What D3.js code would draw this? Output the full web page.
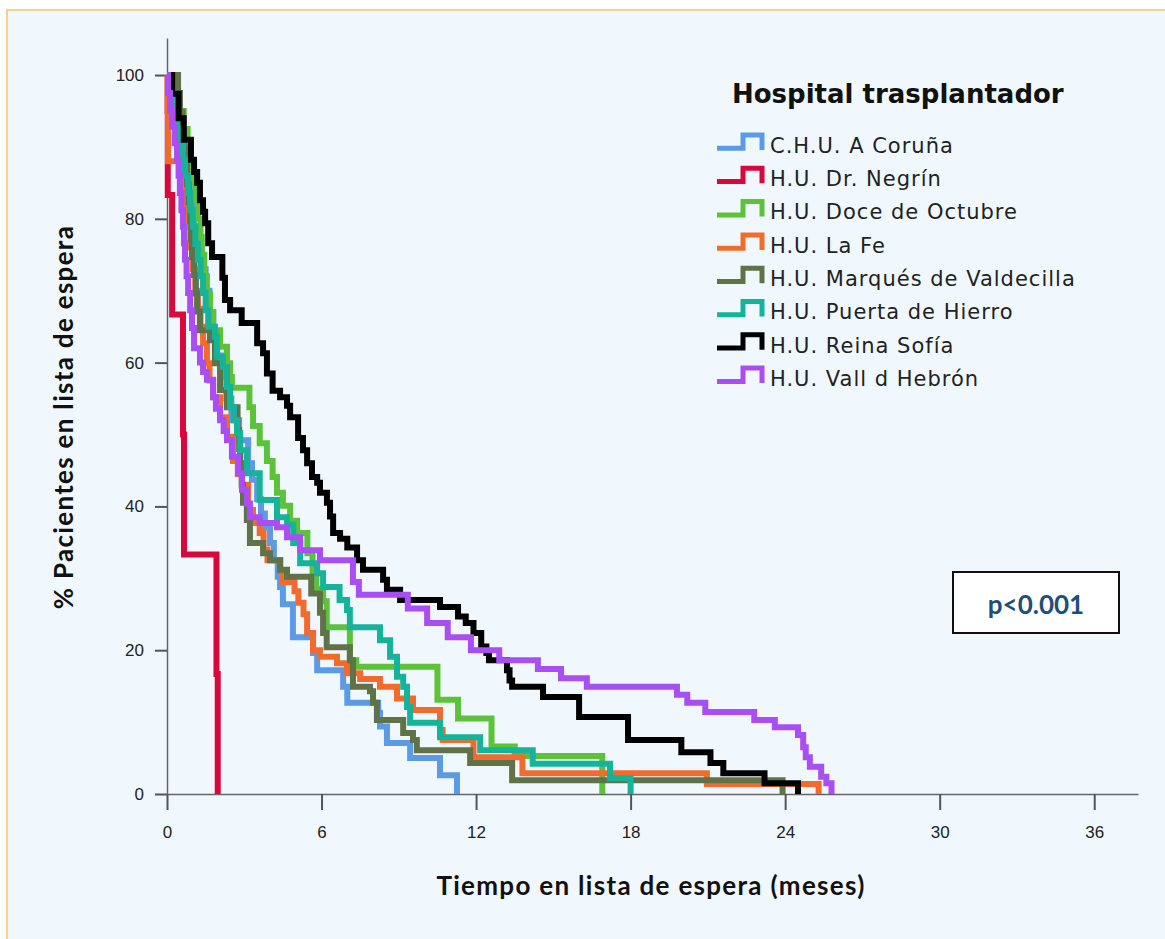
<!DOCTYPE html>
<html>
<head>
<meta charset="utf-8">
<script src="https://cdn.jsdelivr.net/npm/d3@7"></script>
<style>
  html, body { margin: 0; padding: 0; background: #ffffff; }
  svg { display: block; }
</style>
</head>
<body>
<div id="chart"></div>
<script>
// Kaplan-Meier step data: [time in months, % still on waiting list after that drop]
var hospitals = ["C.H.U. A Coruña", "H.U. Dr. Negrín", "H.U. Doce de Octubre", "H.U. La Fe",
  "H.U. Marqués de Valdecilla", "H.U. Puerta de Hierro", "H.U. Reina Sofía", "H.U. Vall d Hebrón"];
var colors = ["#5b9be5", "#d9083c", "#5cc23a", "#f26b2d", "#5f7248", "#16b39b", "#000000", "#a84ef2"];

var coruna = [[0.15,97],[0.3,94],[0.45,91],[0.6,88],[0.75,85],[0.9,82],[1.05,79],[1.2,76],[1.35,73],
  [1.5,70],[1.65,67],[1.8,64],[1.95,61],[2.1,58],[2.3,55],[2.5,52],[2.8,49.2],[3.15,46],[3.3,43.7],
  [3.5,41],[3.65,39],[3.8,37.1],[4.0,34.9],[4.15,32.5],[4.3,30.2],[4.39,28.8],[4.5,26.4],[4.89,21.8],
  [5.67,19.6],[5.83,17.2],[6.84,14.9],[7.0,12.7],[8.2,11.3],[8.27,9.4],[8.54,7.1],[9.44,5.0],
  [10.6,2.6],[11.26,0]];
var negrin = [[0.03,83.3],[0.2,66.7],[0.62,50],[0.66,33.3],[1.92,16.7],[1.97,0]];
var doce = [[0.3,97.5],[0.5,95],[0.65,92.5],[0.8,90],[0.9,87.5],[1.0,85],[1.1,82.5],[1.2,80],
  [1.3,77.5],[1.35,75],[1.45,72],[1.55,69.5],[1.67,67],[1.79,64.5],[2.06,62.2],[2.33,59.9],[2.45,58],
  [2.52,56.5],[3.2,53.8],[3.34,51.2],[3.6,48.8],[3.88,46.3],[4.1,44.1],[4.27,41.9],[4.5,40.1],
  [4.78,38],[5.05,36.3],[5.45,33.5],[5.65,31],[5.8,28.5],[6.06,26.8],[6.2,23.2],[7.1,18.6],
  [7.35,17.7],[10.5,13.1],[11.3,10.5],[12.6,6.6],[13.5,5.3],[16.9,0]];
var laFe = [[0.02,95],[0.04,88],[0.5,86.8],[0.58,85],[0.7,81.2],[0.78,78.9],[0.9,76],[1.0,73],
  [1.1,70],[1.2,67.5],[1.3,65],[1.4,62.7],[1.55,59.9],[1.65,57.5],[1.79,55.2],[2.06,52.4],[2.33,49.7],
  [2.56,46.3],[2.75,44.5],[2.91,43],[3.15,39.5],[3.34,37.7],[3.6,36.3],[3.75,34],[3.9,32.5],[4.4,31],
  [4.5,29.5],[4.95,28.2],[5.1,26.6],[5.3,25],[5.44,22.4],[5.67,20],[5.94,19.1],[6.6,18.2],[6.99,16.8],
  [7.5,16],[8.27,14.9],[8.93,13.3],[9.55,11.7],[10.6,8.9],[10.7,7.5],[11.9,5.1],[13.8,2.9],
  [20.96,1.4],[25.3,0]];
var marques = [[0.43,97.5],[0.5,94.9],[0.6,92.4],[0.66,89.9],[0.72,87.3],[0.78,84.8],[0.84,82.3],
  [0.9,79.7],[0.94,77.2],[0.97,74.7],[1.05,72.2],[1.12,69.6],[1.17,67.1],[1.28,64.5],[1.67,63.1],
  [1.86,59.9],[2.06,56.2],[2.33,53.8],[2.74,50.6],[2.8,48],[2.84,46],[2.9,43],[2.95,40.5],[3.1,38.1],
  [3.22,34.9],[3.73,33.5],[4.0,32.5],[4.39,31.2],[4.66,30.2],[5.6,27.9],[5.94,25.2],[6.06,22.4],
  [6.2,20.4],[7.1,18.6],[7.22,14.9],[7.88,14.3],[8.0,12.7],[8.15,10.3],[9.17,8.5],[9.55,7.5],
  [9.7,6.1],[11.77,4.3],[13.4,1.9],[23.9,0]];
var puerta = [[0.15,97.5],[0.25,95],[0.35,92.5],[0.43,90.5],[0.62,88.2],[0.7,86],[0.82,83.6],
  [0.9,81.2],[1.0,78.9],[1.1,76.5],[1.2,74.3],[1.3,72],[1.4,69.7],[1.5,67.3],[1.6,65],[1.86,63.6],
  [1.94,60.8],[2.17,59.4],[2.33,56.6],[2.45,53.8],[2.6,52],[2.72,50.2],[2.84,47.8],[3.1,44.6],
  [3.6,40.9],[4.27,38.5],[4.66,37.5],[4.9,34.9],[5.17,32.1],[5.83,30.7],[6.06,28.8],[6.7,27],
  [6.99,25.6],[7.1,23.2],[8.27,21.4],[8.66,19.1],[8.93,16.3],[9.17,14.9],[9.32,12.1],[9.44,9.9],
  [10.6,7.9],[12.16,6.1],[14.2,4.2],[17.2,2.2],[18.0,0]];
var reina = [[0.2,97.4],[0.45,94],[0.65,91],[0.93,88.2],[1.05,86.5],[1.17,85],[1.28,82.6],[1.4,81],
  [1.48,79.4],[1.6,76.6],[1.75,74.7],[2.15,71.8],[2.25,68.7],[2.45,67.3],[2.9,65.5],[3.5,62.7],
  [3.73,61.3],[3.88,58.5],[4.1,56.1],[4.39,55.2],[4.66,54],[4.78,52.4],[5.09,49.5],[5.28,47.8],
  [5.44,46],[5.63,44.1],[5.83,43.3],[5.94,41.9],[6.21,40.5],[6.33,38.6],[6.45,36.3],[6.72,35.5],
  [7.0,34.3],[7.38,32.5],[7.61,31.2],[8.39,29.8],[8.54,28.4],[9.05,27],[10.6,26],[11.3,24.7],
  [11.6,23.8],[11.9,22.4],[12.2,20.5],[12.4,19.6],[12.5,18.6],[13.2,17.2],[13.3,15.8],[13.4,14.9],
  [14.6,13.5],[16.0,10.7],[17.9,7.5],[19.97,5.8],[21.1,4.3],[21.6,2.9],[23.2,1.5],[24.5,0]];
var vall = [[0.04,97.5],[0.12,95],[0.2,92.8],[0.3,90.5],[0.39,88.2],[0.45,86],[0.5,83.6],[0.56,81.2],
  [0.62,78.9],[0.66,76.6],[0.7,74.3],[0.76,72],[0.82,69.7],[0.9,67.3],[0.97,64.8],[1.05,62],[1.28,60],
  [1.4,58.7],[1.55,57.6],[1.79,55.2],[1.9,53.6],[2.06,52],[2.2,50.5],[2.33,49.2],[2.52,46.9],
  [2.76,44.6],[2.91,42.3],[3.1,40.4],[3.22,38.5],[3.6,37.7],[4.27,37.1],[4.66,35.7],[5.17,33.9],
  [5.94,32.5],[7.22,29.5],[7.45,27.7],[9.35,25.8],[10.1,23.8],[10.9,21.8],[11.8,20],[12.9,18.6],
  [14.4,17.4],[15.3,16.1],[16.3,14.9],[19.8,13.8],[20.2,12.7],[20.9,11.4],[22.8,10.3],[23.6,9.3],
  [24.5,8.2],[24.7,6.5],[24.8,5.1],[24.96,3.8],[25.4,2.4],[25.6,1.5],[25.8,0]];
var seriesData = [coruna, negrin, doce, laFe, marques, puerta, reina, vall];

var xTicks = [0, 6, 12, 18, 24, 30, 36];
var yTicks = [0, 20, 40, 60, 80, 100];
var xTitle = "Tiempo en lista de espera (meses)";
var yTitle = "% Pacientes en lista de espera";
var legendTitle = "Hospital trasplantador";
var pText = "p<0.001";

var width = 1165, height = 939;
var svg = d3.select("#chart").append("svg")
  .attr("width", width)
  .attr("height", height);

// panel background with the thin orange frame on top/left
svg.append("rect")
  .attr("x", 7).attr("y", 10)
  .attr("width", width).attr("height", height)
  .attr("fill", "#f0f8fe")
  .attr("stroke", "#f9cf96")
  .attr("stroke-width", 2);

var x = d3.scaleLinear().domain([0, 37.7]).range([167, 1138]);
var y = d3.scaleLinear().domain([0, 105.15]).range([794, 38]);

var xAxis = svg.append("g")
  .attr("transform", "translate(0,794)")
  .call(d3.axisBottom(x).tickValues(xTicks).tickSize(16).tickSizeOuter(0).tickPadding(16));
var yAxis = svg.append("g")
  .attr("transform", "translate(167,0)")
  .call(d3.axisLeft(y).tickValues(yTicks).tickSize(12).tickSizeOuter(0).tickPadding(11));

[xAxis, yAxis].forEach(function (g) {
  g.select(".domain").attr("stroke", "#666").attr("stroke-width", 1.5);
  g.selectAll(".tick line").attr("stroke", "#555").attr("stroke-width", 2);
  g.selectAll(".tick text")
    .attr("fill", "#222")
    .attr("font-family", "Liberation Sans, Arial, sans-serif")
    .attr("font-size", "17px");
});

// curves, drawn in legend order so the later hospitals sit on top
var line = d3.line()
  .x(function (d) { return x(d[0]); })
  .y(function (d) { return y(d[1]); })
  .curve(d3.curveStepAfter);

var curves = svg.append("g");
seriesData.forEach(function (s, i) {
  curves.append("path")
    .datum([[0, 100]].concat(s))
    .attr("d", line)
    .attr("fill", "none")
    .attr("stroke", colors[i])
    .attr("stroke-width", 6)
    .attr("stroke-linejoin", "miter")
    .attr("stroke-linecap", "butt");
});

// axis titles
svg.append("text")
  .attr("x", 651).attr("y", 895)
  .attr("text-anchor", "middle")
  .attr("font-family", "Lato, Open Sans, sans-serif")
  .attr("font-weight", "bold")
  .attr("font-size", "26px")
  .attr("letter-spacing", "1.3px")
  .attr("fill", "#111")
  .text(xTitle);

svg.append("text")
  .attr("transform", "translate(73,417) rotate(-90)")
  .attr("text-anchor", "middle")
  .attr("font-family", "Lato, Open Sans, sans-serif")
  .attr("font-weight", "bold")
  .attr("font-size", "26px")
  .attr("letter-spacing", "1.3px")
  .attr("fill", "#111")
  .text(yTitle);

// legend
var legend = svg.append("g");
legend.append("text")
  .attr("x", 732).attr("y", 103)
  .attr("font-family", "DejaVu Sans, sans-serif")
  .attr("font-weight", "bold")
  .attr("font-size", "26px")
  .attr("fill", "#111")
  .text(legendTitle);

hospitals.forEach(function (name, i) {
  var c = 144.7 + i * 33.3;
  legend.append("path")
    .attr("d", "M717," + (c + 3.6) + "H743V" + (c - 9.7) + "H762V" + (c + 5.3))
    .attr("fill", "none")
    .attr("stroke", colors[i])
    .attr("stroke-width", 5);
  legend.append("text")
    .attr("x", 770).attr("y", c + 8)
    .attr("font-family", "DejaVu Sans, sans-serif")
    .attr("font-size", "21px")
    .attr("letter-spacing", "1px")
    .attr("fill", "#222")
    .text(name);
});

// p-value box
svg.append("rect")
  .attr("x", 953).attr("y", 572)
  .attr("width", 166).attr("height", 61)
  .attr("fill", "#ffffff")
  .attr("stroke", "#111")
  .attr("stroke-width", 2);
svg.append("text")
  .attr("x", 1036).attr("y", 614)
  .attr("text-anchor", "middle")
  .attr("font-family", "Lato, Open Sans, sans-serif")
  .attr("font-weight", "bold")
  .attr("font-size", "26px")
  .attr("fill", "#1f4e79")
  .text(pText);
</script>
</body>
</html>
